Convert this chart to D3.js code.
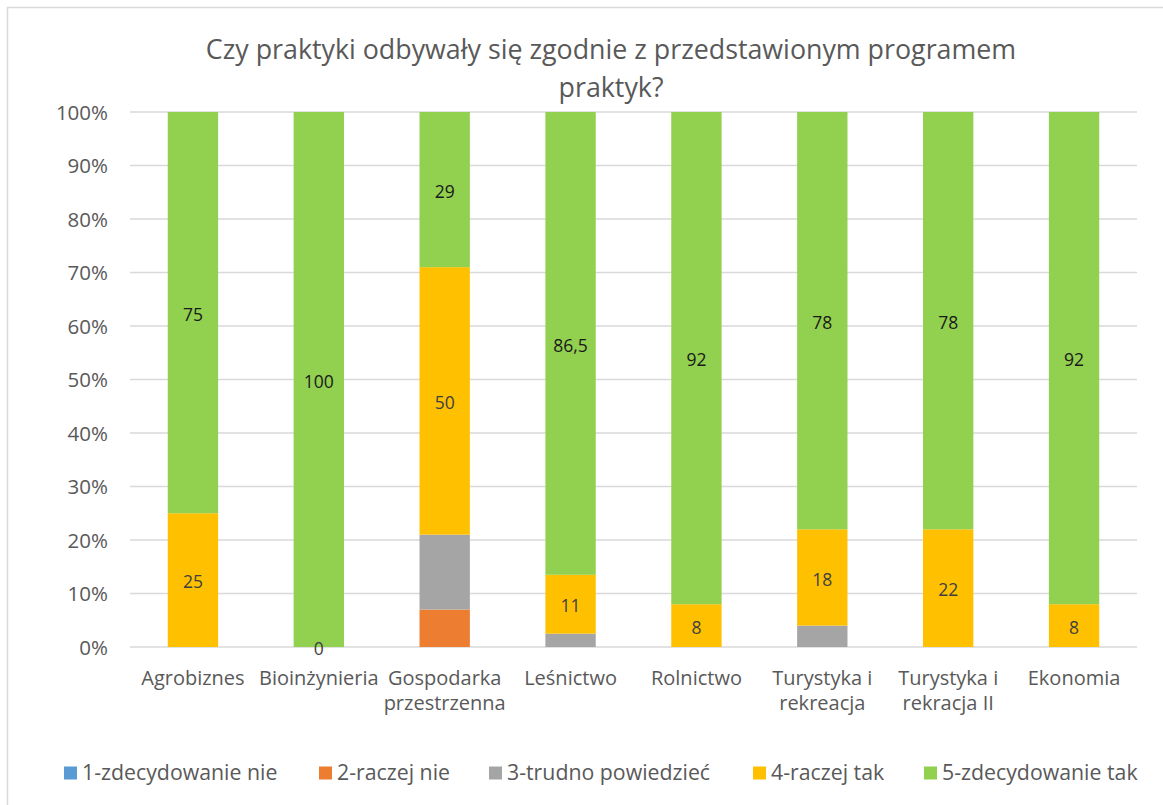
<!DOCTYPE html>
<html><head><meta charset="utf-8">
<script src="https://cdn.jsdelivr.net/npm/d3@7"></script>
<style>body{margin:0;background:#fff;} svg{display:block;}</style>
</head><body>
<svg id="chart" width="1163" height="805"></svg>
<script>
const categories = [["Agrobiznes"],["Bioinżynieria"],["Gospodarka","przestrzenna"],["Leśnictwo"],["Rolnictwo"],["Turystyka i","rekreacja"],["Turystyka i","rekracja II"],["Ekonomia"]];
const seriesNames = ["1-zdecydowanie nie","2-raczej nie","3-trudno powiedzieć","4-raczej tak","5-zdecydowanie tak"];
const s1 = [0,0,0,0,0,0,0,0];
const s2 = [0,0,7,0,0,0,0,0];
const s3 = [0,0,14,2.5,0,4,0,0];
const s4 = [25,0,50,11,8,18,22,8];
const s5 = [75,100,29,86.5,92,78,78,92];
const yTicks = [0,10,20,30,40,50,60,70,80,90,100];
const colors = ["#5B9BD5","#ED7D31","#A5A5A5","#FFC000","#92D050"];
const labelledSeries = [3,4];

const FONT = "'Open Sans', 'Noto Sans', sans-serif";
const svg = d3.select("#chart");
const W = 1163, H = 805;
const pLeft = 130, pRight = 1137, pTop = 112, pBottom = 647;

svg.append("rect").attr("x",7.5).attr("y",7.5).attr("width",W).attr("height",H).attr("fill","#fff").attr("stroke","#D9D9D9").attr("stroke-width",1.5);

const keys = categories.map(c=>c.join(" "));
const x = d3.scaleBand().domain(keys).range([pLeft,pRight]).paddingInner(0.6).paddingOuter(0.3);
const y = d3.scaleLinear().domain([0,100]).range([pBottom,pTop]);

// gridlines
svg.append("g").selectAll("line").data(yTicks).join("line")
  .attr("x1",pLeft).attr("x2",pRight).attr("y1",d=>y(d)).attr("y2",d=>y(d))
  .attr("stroke","#D9D9D9").attr("stroke-width",1.5);

// y axis
const yAxis = svg.append("g").attr("transform",`translate(${pLeft-22},0)`)
  .call(d3.axisLeft(y).tickValues(yTicks).tickFormat(d=>d+"%").tickSize(0).tickPadding(0));
yAxis.select(".domain").remove();
yAxis.selectAll("text").attr("font-family",FONT).attr("font-size",20.5).attr("fill","#595959").attr("dy","0.35em");

// stacked data
const table = categories.map((c,i)=>({cat:keys[i], v0:s1[i], v1:s2[i], v2:s3[i], v3:s4[i], v4:s5[i]}));
const stack = d3.stack().keys(["v0","v1","v2","v3","v4"]);
const stacked = stack(table);

const groups = svg.append("g").selectAll("g").data(stacked).join("g").attr("fill",(d,i)=>colors[i]);
groups.selectAll("rect").data(d=>d).join("rect")
  .attr("x",d=>x(d.data.cat)).attr("width",x.bandwidth())
  .attr("y",d=>y(d[1])).attr("height",d=>y(d[0])-y(d[1]));

// labels
stacked.forEach((ser,si)=>{
  if(!labelledSeries.includes(si)) return;
  const pts = ser.filter(d=> !(si===3 && (d[1]-d[0])===0 && d.data.v4!==100));
  svg.append("g").selectAll("text").data(pts).join("text")
    .attr("x",d=>x(d.data.cat)+x.bandwidth()/2)
    .attr("y",d=>y((d[0]+d[1])/2))
    .attr("dy","0.47em").attr("text-anchor","middle")
    .attr("font-family",FONT).attr("font-size",17.5).attr("fill", si===4 ? "#1a1a1a" : "#404040")
    .text(d=>String(+(d[1]-d[0]).toFixed(1)).replace(".",","));
});

// x axis labels
categories.forEach((c,i)=>{
  const cx = x(keys[i])+x.bandwidth()/2;
  const t = svg.append("text").attr("x",cx).attr("y",685)
    .attr("text-anchor","middle").attr("font-family",FONT).attr("font-size",20).attr("fill","#595959");
  c.forEach((ln,j)=>t.append("tspan").attr("x",cx).attr("dy",j===0?0:25).text(ln));
});

// title
const title = svg.append("text").attr("text-anchor","middle").attr("font-family",FONT).attr("font-size",26.8).attr("fill","#595959");
title.append("tspan").attr("x",611).attr("y",59).text("Czy praktyki odbywały się zgodnie z przedstawionym programem");
title.append("tspan").attr("x",611).attr("y",97).text("praktyk?");

// legend
const legendX = [64,319,489,753,924];
const lg = svg.append("g").selectAll("g").data(seriesNames).join("g")
  .attr("transform",(d,i)=>`translate(${legendX[i]},773)`);
lg.append("rect").attr("x",0).attr("y",-6.5).attr("width",13).attr("height",13).attr("fill",(d,i)=>colors[i]);
lg.append("text").attr("x",18).attr("dy","0.35em").attr("font-family",FONT).attr("font-size",21.3).attr("fill","#595959").text(d=>d);
</script>
</body></html>
